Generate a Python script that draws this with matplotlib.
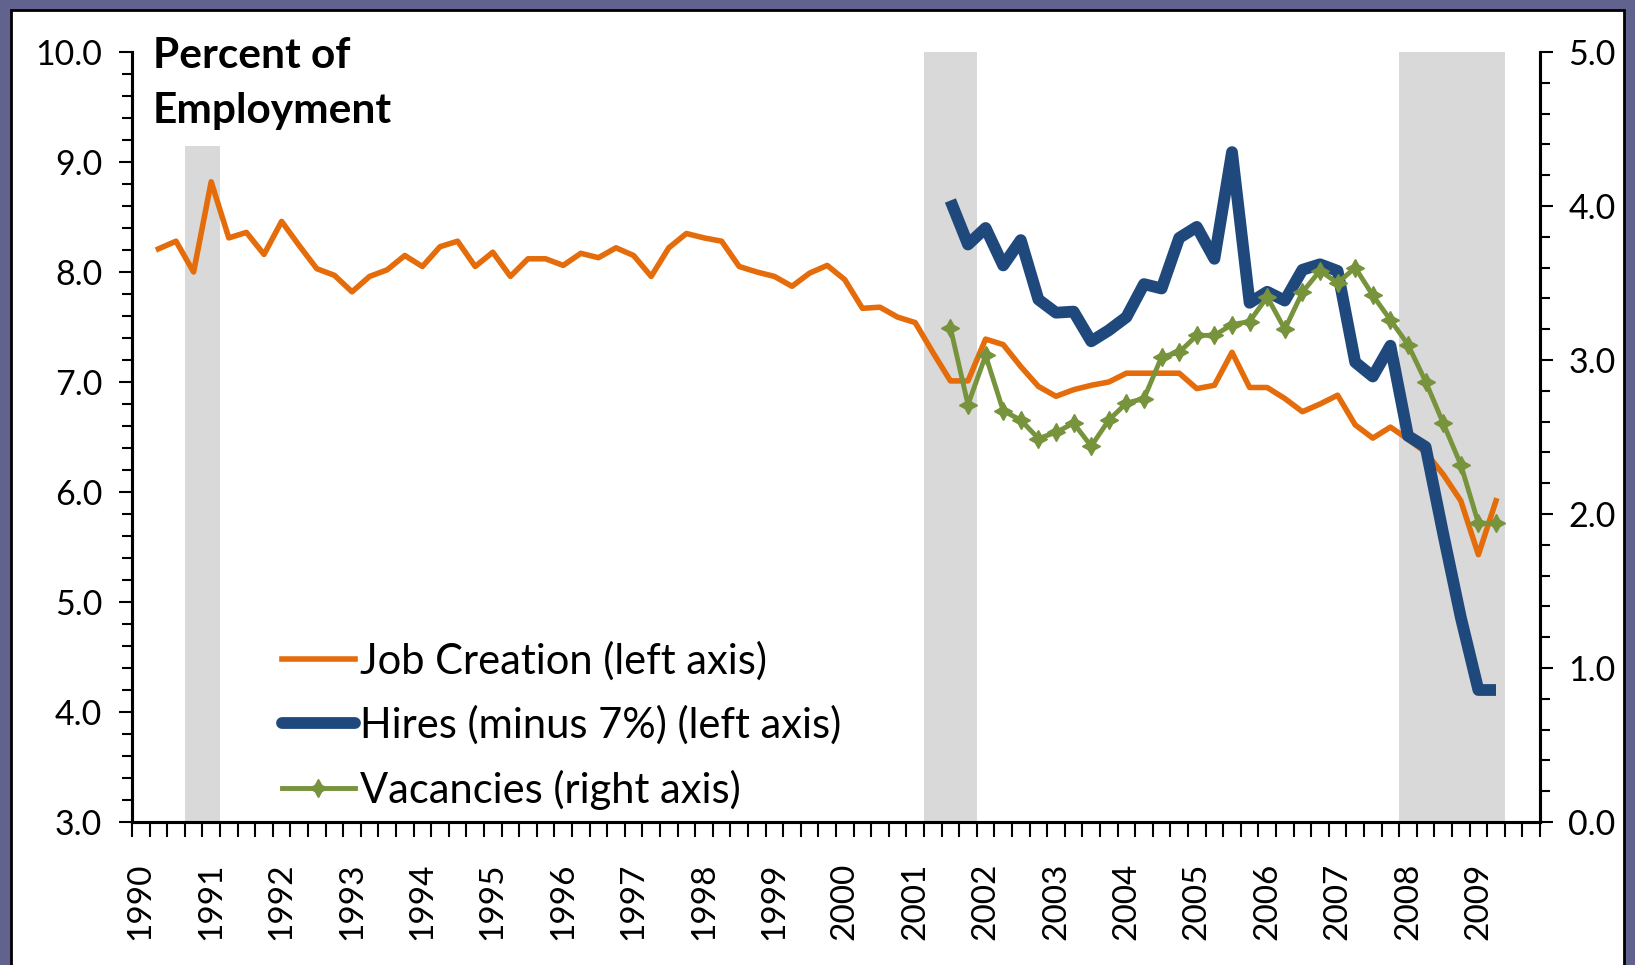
import numpy as np
import matplotlib
matplotlib.use("Agg")
from matplotlib import pyplot as plt
from matplotlib.patches import Rectangle
from matplotlib.lines import Line2D

plt.rcParams['font.family'] = ['Lato', 'DejaVu Sans']

# quarterly categories 1990Q1 .. 2009Q4
years = [str(y) for y in range(1990, 2010)]

# job creation, % of employment (left axis), 1990Q2 .. 2009Q2
jc_start = 1
job_creation = [8.21, 8.28, 8.00, 8.82, 8.31, 8.36, 8.16, 8.46, 8.24, 8.03,
                7.97, 7.82, 7.96, 8.02, 8.15, 8.05, 8.23, 8.28, 8.05, 8.18,
                7.96, 8.12, 8.12, 8.06, 8.17, 8.13, 8.22, 8.15, 7.96, 8.22,
                8.35, 8.31, 8.28, 8.05, 8.00, 7.96, 7.87, 7.99, 8.06, 7.93,
                7.67, 7.68, 7.59, 7.54, 7.27, 7.01, 7.01, 7.39, 7.34, 7.14,
                6.96, 6.87, 6.93, 6.97, 7.00, 7.08, 7.08, 7.08, 7.08, 6.94,
                6.97, 7.27, 6.95, 6.95, 6.85, 6.73, 6.80, 6.88, 6.61, 6.49,
                6.59, 6.48, 6.36, 6.16, 5.92, 5.43, 5.92]

# hires minus 7% (left axis) and vacancies (right axis), 2001Q3 .. 2009Q2
jolts_start = 46
hires = [8.65, 8.25, 8.40, 8.06, 8.29, 7.75, 7.63, 7.64, 7.37, 7.47,
         7.59, 7.89, 7.85, 8.31, 8.41, 8.12, 9.09, 7.72, 7.82, 7.74,
         8.02, 8.07, 8.01, 7.18, 7.05, 7.33, 6.51, 6.41, 5.62, 4.86,
         4.20, 4.20]
vacancies = [3.21, 2.71, 3.03, 2.67, 2.61, 2.49, 2.53, 2.59, 2.44, 2.61,
             2.72, 2.75, 3.02, 3.05, 3.16, 3.16, 3.23, 3.25, 3.41, 3.20,
             3.44, 3.58, 3.50, 3.60, 3.42, 3.26, 3.10, 2.86, 2.59, 2.32,
             1.94, 1.94]

# recession quarters (shaded columns on the left axis)
rec_quarters = [3, 4, 45, 46, 47, 72, 73, 74, 75, 76, 77]
rec_tops = [9.15, 9.15, 10, 10, 10, 10, 10, 10, 10, 10, 10]

orange = '#E46C0A'
blue = '#1F497D'
green = '#77933C'
W, H = 1635, 965

fig = plt.figure(figsize=(W / 100, H / 100), dpi=100)
fig.patch.set_facecolor('#62628f')
fig.add_artist(Rectangle((11 / W, -0.1), (1624 - 11) / W, 1.1 - 10 / H,
                         transform=fig.transFigure, facecolor='white',
                         edgecolor='black', lw=2, zorder=-5))

ax = fig.add_axes([132 / W, 1 - 822 / H, (1540 - 132) / W, (822 - 52) / H])
ax.patch.set_visible(False)
ax2 = ax.twinx()

ax.bar(rec_quarters, np.array(rec_tops) - 3, bottom=3, width=1.0,
       color='#D9D9D9', zorder=0)
x_jc = np.arange(jc_start, jc_start + len(job_creation))
x_jo = np.arange(jolts_start, jolts_start + len(hires))
ax.plot(x_jc, job_creation, color=orange, lw=4, zorder=2)
ax.plot(x_jo, hires, color=blue, lw=8.5, solid_capstyle='butt', zorder=3)
ax2.plot(x_jo, vacancies, color=green, lw=3.5, marker=(4, 1, 0), ms=13,
         zorder=4)

ax.set_xlim(-0.5, 79.5)
ax.set_ylim(3, 10)
ax2.set_ylim(0, 5)

ax.set_xticks(np.arange(0, 80, 4))
ax.set_xticklabels(years, rotation=90, fontsize=24)
ax.set_xticks(np.arange(-0.5, 80, 1), minor=True)
ax.tick_params(axis='x', which='major', length=0, pad=29)
ax.tick_params(axis='x', which='minor', length=10.5, width=1.5)

ax.set_yticks(np.arange(3, 10.1, 1))
ax.set_yticklabels(['%.1f' % v for v in np.arange(3, 10.1, 1)], fontsize=24.5)
ax.set_yticks(np.arange(3, 10.01, 0.2), minor=True)
ax.tick_params(axis='y', which='major', length=9.4, width=1.5, pad=12)
ax.tick_params(axis='y', which='minor', length=7.2, width=1.5)

ax2.set_yticks(np.arange(0, 5.1, 1))
ax2.set_yticklabels(['%.1f' % v for v in np.arange(0, 5.1, 1)], fontsize=24.5)
ax2.set_yticks(np.arange(0, 5.01, 0.2), minor=True)
ax2.tick_params(axis='y', which='major', length=9.4, width=1.5, pad=11)
ax2.tick_params(axis='y', which='minor', length=7.2, width=1.5)

for a in (ax, ax2):
    a.spines['top'].set_visible(False)
    for s in ('left', 'right', 'bottom'):
        a.spines[s].set_linewidth(2.2)

fig.text(153 / W, 1 - 37 / H, 'Percent of\nEmployment', fontsize=30.5,
         fontweight='bold', va='top', ha='left', linespacing=1.55)

handles = [Line2D([], [], color=orange, lw=4),
           Line2D([], [], color=blue, lw=8.5, solid_capstyle='round'),
           Line2D([], [], color=green, lw=3.5, marker=(4, 1, 0), ms=13)]
labels = ['Job Creation (left axis)', 'Hires (minus 7%) (left axis)',
          'Vacancies (right axis)']
ax2.legend(handles, labels, loc='lower left', frameon=False, fontsize=30,
           bbox_to_anchor=(282 / W, 1 - 810 / H), bbox_transform=fig.transFigure,
           borderpad=0, borderaxespad=0, handlelength=1.75, handletextpad=0.12,
           labelspacing=0.6)

fig.savefig('out.png', dpi=100, facecolor=fig.get_facecolor())
